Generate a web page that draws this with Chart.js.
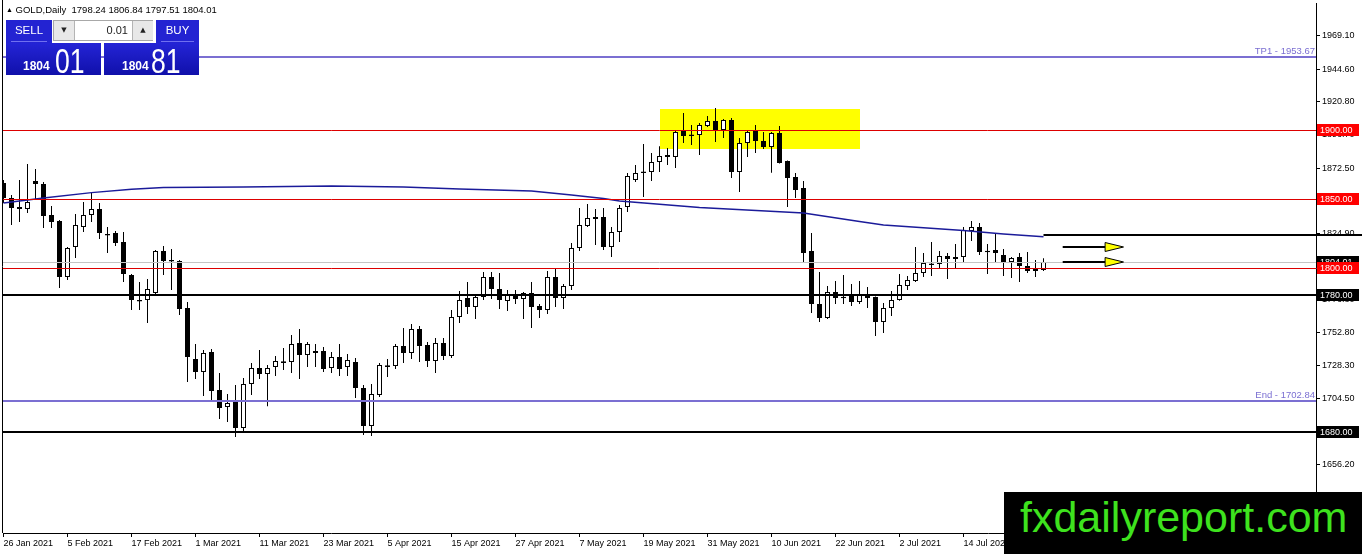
<!DOCTYPE html>
<html>
<head>
<meta charset="utf-8">
<script src="https://cdn.jsdelivr.net/npm/chart.js@4.4.1/dist/chart.umd.min.js"></script>
<style>
html,body{margin:0;padding:0;background:#fff;overflow:hidden;}
#wrap{position:relative;width:1362px;height:554px;}
#c{position:absolute;left:0;top:0;}
.abs{position:absolute;}
#hdr{left:6px;top:3px;font:9.5px/13px 'Liberation Sans',Arial,sans-serif;color:#000;white-space:pre;}
#hdr .tri{font-size:7px;position:relative;top:-1px;}
.flat{background:#2323d2;color:#fff;font-family:'Liberation Sans',Arial,sans-serif;}
.grad{background:linear-gradient(#2424d6,#1010aa);color:#fff;font-family:'Liberation Sans',Arial,sans-serif;}
.btn{font-size:11.5px;text-align:center;line-height:21px;}
.uline{position:absolute;left:5px;right:5px;top:21px;height:1px;background:#7070f0;}
.small{position:absolute;top:16px;font:bold 12px/14px 'Liberation Sans',Arial,sans-serif;}
.big{position:absolute;top:0;font:35px/35px 'Liberation Sans',Arial,sans-serif;transform:scaleX(0.76);transform-origin:0 0;}
#spin{left:53px;top:20px;width:100px;height:21px;background:#e4e4e4;border:1px solid #a8a8a8;box-sizing:border-box;}
.arr{position:absolute;top:0;width:20px;height:19px;background:#e8e8e8;font:7px/19px 'DejaVu Sans',sans-serif;text-align:center;color:#222;}
#wm{left:1004px;top:492px;width:358px;height:62px;background:#000;}
#wm span{position:absolute;left:16px;top:4px;font:43px/43px 'Liberation Sans',Arial,sans-serif;color:#3ee21e;white-space:nowrap;}
</style>
</head>
<body>
<div id="wrap">
<canvas id="c" width="1362" height="554"></canvas>
<div id="hdr" class="abs"><span class="tri">▲</span> GOLD,Daily&nbsp; 1798.24 1806.84 1797.51 1804.01</div>
<div class="abs flat btn" style="left:6px;top:20px;width:46px;height:23px;">SELL<div class="uline"></div></div>
<div class="abs grad" style="left:6px;top:43px;width:95px;height:32px;"><span class="small" style="left:17px;">1804</span><span class="big" style="left:49px;">01</span></div>
<div id="spin" class="abs">
  <div class="arr" style="left:0;border-right:1px solid #b4b4b4;">▼</div>
  <div class="abs" style="left:21px;top:0;width:57px;height:19px;background:#fff;font:11px/19px 'Liberation Sans',Arial,sans-serif;text-align:right;padding-right:4px;box-sizing:border-box;color:#222;">0.01</div>
  <div class="arr" style="left:78px;border-left:1px solid #b4b4b4;">▲</div>
</div>
<div class="abs flat btn" style="left:156px;top:20px;width:43px;height:23px;">BUY<div class="uline"></div></div>
<div class="abs grad" style="left:104px;top:43px;width:95px;height:32px;"><span class="small" style="left:18px;">1804</span><span class="big" style="left:47px;">81</span></div>
<div id="wm" class="abs"><span>fxdailyreport.com</span></div>
</div>
<script>
// ---- data ----
const tickLabels = ["26 Jan 2021","5 Feb 2021","17 Feb 2021","1 Mar 2021","11 Mar 2021","23 Mar 2021","5 Apr 2021","15 Apr 2021","27 Apr 2021","7 May 2021","19 May 2021","31 May 2021","10 Jun 2021","22 Jun 2021","2 Jul 2021","14 Jul 2021"];
const opens = [1861.64,1850.71,1842.69,1842.69,1863.10,1860.91,1838.32,1833.95,1793.14,1815.01,
1829.58,1838.32,1842.69,1824.47,1825.20,1818.64,1794.60,1776.38,1776.38,1781.48,
1812.09,1805.53,1804.80,1770.56,1733.39,1723.92,1738.49,1710.80,1698.42,1703.51,
1683.11,1715.17,1726.83,1722.46,1727.56,1730.50,1731.20,1745.04,1736.30,1737.76,
1739.22,1726.83,1734.85,1727.56,1731.20,1712.26,1684.57,1707.15,1727.60,1728.29,
1742.86,1737.76,1755.25,1743.59,1731.93,1745.04,1735.57,1763.99,1777.84,1771.28,
1778.57,1793.14,1784.40,1775.65,1780.02,1777.11,1781.48,1772.01,1769.10,1793.14,
1777.84,1786.59,1814.28,1830.31,1835.41,1836.86,1815.01,1825.93,1844.15,1863.83,
1868.90,1869.66,1876.94,1882.04,1880.58,1899.53,1896.90,1896.62,1903.17,1906.81,
1900.26,1907.54,1869.66,1890.78,1899.53,1892.24,1887.87,1898.07,1877.67,1866.01,
1857.99,1812.09,1773.47,1763.27,1782.21,1778.80,1779.30,1774.92,1780.75,1778.57,
1760.35,1770.56,1776.38,1786.59,1790.23,1796.05,1801.90,1802.61,1808.44,1806.26,
1807.72,1826.66,1829.58,1812.30,1812.82,1809.17,1804.07,1807.72,1801.16,1797.51,
1798.24];
const highs = [1863.83,1852.90,1863.83,1875.49,1871.84,1862.37,1844.88,1834.68,1815.01,1839.04,
1847.79,1854.36,1847.07,1829.58,1826.66,1825.93,1795.33,1789.50,1791.69,1812.82,
1815.73,1813.55,1805.53,1774.92,1744.32,1739.95,1740.68,1723.19,1707.88,1714.44,
1719.54,1730.47,1739.95,1729.01,1735.57,1741.41,1750.88,1755.25,1745.77,1744.32,
1742.14,1738.49,1744.32,1737.03,1734.12,1714.44,1715.17,1730.47,1733.39,1744.32,
1755.98,1758.89,1757.43,1745.77,1748.69,1748.69,1769.10,1782.94,1789.50,1779.30,
1796.78,1796.78,1796.05,1783.67,1783.67,1782.21,1789.50,1773.47,1797.51,1798.97,
1788.04,1817.91,1843.42,1846.34,1842.69,1843.42,1829.58,1845.61,1868.93,1874.76,
1890.05,1883.50,1888.42,1887.15,1899.53,1912.64,1903.90,1905.36,1910.46,1916.29,
1908.27,1909.00,1894.43,1900.26,1903.90,1898.80,1898.80,1903.17,1878.00,1868.93,
1863.10,1825.20,1796.78,1786.59,1790.23,1794.60,1788.04,1790.23,1785.86,1779.00,
1774.19,1782.94,1795.33,1793.87,1815.01,1810.63,1818.64,1812.09,1810.63,1817.18,
1829.58,1833.95,1832.50,1817.18,1825.20,1813.55,1807.72,1810.63,1811.36,1805.53,
1806.84];
const lows = [1847.07,1831.04,1833.22,1839.77,1849.25,1828.85,1828.85,1785.13,1790.96,1806.99,
1825.93,1833.22,1820.83,1810.63,1815.73,1789.50,1769.10,1769.10,1759.62,1780.75,
1794.60,1783.67,1765.46,1716.63,1718.82,1706.42,1703.51,1689.67,1687.48,1676.55,
1679.47,1707.15,1718.82,1698.96,1721.00,1725.37,1723.19,1718.82,1727.56,1727.56,
1723.92,1723.19,1721.00,1721.00,1704.97,1678.01,1677.28,1705.69,1720.27,1726.10,
1730.47,1733.39,1731.20,1727.56,1723.19,1732.66,1734.12,1759.62,1766.19,1762.54,
1776.38,1777.11,1769.83,1768.37,1773.47,1762.54,1755.98,1763.27,1766.19,1771.28,
1769.83,1783.67,1812.09,1829.58,1816.46,1812.82,1807.72,1818.64,1840.50,1862.37,
1851.44,1863.10,1869.66,1874.76,1872.57,1890.78,1889.32,1882.04,1902.45,1891.51,
1894.43,1865.29,1855.08,1880.58,1883.50,1886.42,1869.02,1875.80,1844.15,1850.71,
1804.07,1766.92,1760.35,1762.50,1773.47,1773.47,1772.01,1773.47,1770.56,1750.15,
1752.33,1764.73,1775.90,1783.67,1789.50,1793.14,1793.87,1799.70,1791.69,1798.97,
1804.07,1819.37,1809.17,1795.33,1804.07,1793.87,1792.41,1789.50,1796.05,1793.14,
1797.51];
const closes = [1850.71,1843.42,1844.15,1847.79,1860.91,1837.59,1833.22,1793.14,1814.28,1831.04,
1838.32,1842.69,1825.20,1823.30,1817.91,1795.33,1776.38,1775.20,1784.40,1812.09,
1804.80,1804.40,1769.83,1734.85,1723.92,1737.76,1710.07,1697.69,1701.33,1683.11,
1715.17,1726.83,1722.46,1726.83,1731.93,1731.70,1744.32,1736.30,1744.32,1739.22,
1726.10,1734.85,1726.10,1732.66,1712.26,1684.57,1707.88,1729.01,1728.80,1742.86,
1737.76,1755.25,1742.86,1731.93,1745.04,1735.57,1763.99,1776.38,1771.28,1778.57,
1793.14,1784.40,1776.38,1780.02,1777.11,1781.48,1771.28,1769.10,1793.14,1777.84,
1786.59,1814.28,1831.04,1836.14,1836.86,1815.01,1825.93,1843.42,1866.74,1868.93,
1870.10,1876.94,1881.31,1880.58,1898.80,1895.89,1895.80,1903.90,1906.81,1900.26,
1907.54,1869.66,1890.78,1898.80,1892.24,1887.87,1898.07,1876.21,1865.29,1856.54,
1810.63,1773.47,1763.27,1782.21,1777.84,1777.70,1774.92,1780.02,1777.84,1760.35,
1770.56,1776.38,1787.31,1790.96,1796.05,1803.34,1803.00,1808.44,1806.26,1807.72,
1827.39,1829.58,1811.36,1811.20,1810.63,1803.34,1806.99,1801.16,1797.51,1798.97,
1804.01];
// moving average readings (candle index, value)
const maIdx = [0,5,11,16,20,30,41,50,57,66,71,75,77,87,100,107,110,120,125,130];
const maVal = [1847.1,1850.7,1854.6,1857.1,1858.4,1858.7,1859.5,1858.7,1857.3,1855.8,1852.9,1850.3,1848.5,1843.8,1839.8,1833.6,1831.0,1827.0,1824.5,1822.5];
const yTicks = [1969.10,1944.60,1920.80,1896.70,1872.50,1848.70,1824.90,1800.80,1776.80,1752.80,1728.30,1704.50,1680.40,1656.20,1632.40];
const redLevels = [1900,1850,1800];
const blackLevels = [1780,1680];
const blueLevels = [1953.67,1702.84];
const blueLabels = ["TP1 - 1953.67","End - 1702.84"];
const currentPrice = 1804.01;
const trendLevel = 1823.9;
const trendStart = 130;
const zoneX = [82,107];
const zoneY = [1886.4,1915.6];
const arrowLevels = [1815.2,1804.2];
const arrowX = [132.4,137.7,140.0];

// ---- chart ----
const FONT = "'Liberation Sans', Arial, sans-serif";
const wickData = opens.map((o,i)=>({x:i, y:[lows[i], highs[i]]}));
const bodyData = opens.map((o,i)=>({x:i, y:[o, closes[i]]}));
const bodyColors = opens.map((o,i)=> closes[i] >= o ? '#ffffff' : '#000000');
const maData = maIdx.map((k,j)=>({x:k, y:maVal[j]}));

const overlay = {
  id:'overlay',
  beforeDatasetsDraw(chart){
    const {ctx, scales:{x,y}} = chart;
    const x0 = x.getPixelForValue(zoneX[0]), x1 = x.getPixelForValue(zoneX[1]);
    const y0 = y.getPixelForValue(zoneY[1]), y1 = y.getPixelForValue(zoneY[0]);
    ctx.save();
    ctx.fillStyle = '#ffff00';
    ctx.fillRect(Math.round(x0), Math.round(y0), Math.round(x1-x0), Math.round(y1-y0));
    ctx.restore();
  },
  afterDatasetsDraw(chart){
    const {ctx, chartArea:a, scales:{x,y}} = chart;
    const W = chart.width;
    const hline = (v,color,w,xs,xe)=>{
      const py = Math.round(y.getPixelForValue(v)) + (w % 2 ? 0.5 : 0);
      ctx.strokeStyle = color; ctx.lineWidth = w;
      ctx.beginPath(); ctx.moveTo(xs,py); ctx.lineTo(xe,py); ctx.stroke();
    };
    ctx.save();
    hline(currentPrice,'#c4c4c4',1,a.left,a.right);
    redLevels.forEach(v=>hline(v,'#dd0000',1,a.left,a.right));
    blueLevels.forEach(v=>hline(v,'#7b6fd2',2,a.left,a.right));
    blackLevels.forEach(v=>hline(v,'#000000',2,a.left,a.right));
    hline(trendLevel,'#000000',2,x.getPixelForValue(trendStart),W);
    // arrows
    arrowLevels.forEach(v=>{
      const py = Math.round(y.getPixelForValue(v));
      const xa = x.getPixelForValue(arrowX[0]), xb = x.getPixelForValue(arrowX[1]), xc = x.getPixelForValue(arrowX[2]);
      ctx.strokeStyle = '#000'; ctx.lineWidth = 2;
      ctx.beginPath(); ctx.moveTo(xa,py); ctx.lineTo(xb,py); ctx.stroke();
      ctx.fillStyle = '#ffff00'; ctx.lineWidth = 1;
      ctx.beginPath(); ctx.moveTo(xb,py-4.5); ctx.lineTo(xc,py); ctx.lineTo(xb,py+4.5); ctx.closePath();
      ctx.fill(); ctx.stroke();
    });
    // level texts
    ctx.font = "9.5px " + FONT; ctx.fillStyle = '#7b6fd2';
    ctx.textAlign = 'right'; ctx.textBaseline = 'alphabetic';
    blueLevels.forEach((v,k)=>ctx.fillText(blueLabels[k], a.right-1, y.getPixelForValue(v)-3));
    // left border
    ctx.strokeStyle = '#000'; ctx.lineWidth = 1;
    ctx.beginPath(); ctx.moveTo(a.left-0.5,0); ctx.lineTo(a.left-0.5,a.bottom); ctx.stroke();
    ctx.restore();
  },
  afterDraw(chart){
    const {ctx, chartArea:a, scales:{y}} = chart;
    const box = (v,txt,bg)=>{
      const top = Math.round(y.getPixelForValue(v) - 6);
      ctx.fillStyle = bg; ctx.fillRect(a.right+1, top, 42, 12);
      ctx.fillStyle = '#fff'; ctx.font = "9px " + FONT;
      ctx.textAlign = 'left'; ctx.textBaseline = 'middle';
      ctx.fillText(txt, a.right+4, top+6.5);
    };
    ctx.save();
    box(currentPrice, currentPrice.toFixed(2), '#000');
    redLevels.forEach(v=>box(v, v.toFixed(2), '#ff0000'));
    blackLevels.forEach(v=>box(v, v.toFixed(2), '#000'));
    ctx.restore();
  }
};

new Chart(document.getElementById('c'), {
  type:'bar',
  data:{datasets:[
    {type:'line', data:maData, borderColor:'#1b1b9a', borderWidth:1.4, pointRadius:0, tension:0, order:0},
    {type:'bar', data:bodyData, backgroundColor:bodyColors, borderColor:'#000', borderWidth:1, borderSkipped:false, barThickness:5, inflateAmount:0, grouped:false, order:1},
    {type:'bar', data:wickData, backgroundColor:'#000', borderWidth:0, barThickness:1, inflateAmount:0, grouped:false, order:2}
  ]},
  options:{
    responsive:false, animation:false,
    layout:{padding:{left:3, top:3, right:0, bottom:0}},
    plugins:{legend:{display:false}, tooltip:{enabled:false}},
    scales:{
      x:{type:'linear', min:-0.0625, max:164.0625, bounds:'data', offset:false, position:'bottom',
         grid:{drawOnChartArea:false, drawTicks:true, tickLength:4, color:'#000', tickColor:'#000', offset:false},
         border:{display:true, color:'#000', width:1},
         ticks:{autoSkip:false, maxRotation:0, minRotation:0, align:'start', padding:1, color:'#000',
                font:{family:FONT, size:9}, callback:(v)=>tickLabels[Math.round(v/8)] || ''},
         afterBuildTicks:(s)=>{ s.ticks = tickLabels.map((t,k)=>({value:k*8})); },
         afterFit:(s)=>{ s.height = 21; s.paddingLeft = 0; s.paddingRight = 0; }
      },
      y:{type:'linear', position:'right', min:1606.6, max:1992.8, bounds:'data',
         grid:{drawOnChartArea:false, drawTicks:true, tickLength:4, color:'#000', tickColor:'#000'},
         border:{display:true, color:'#000', width:1},
         ticks:{autoSkip:false, padding:2, color:'#000', font:{family:FONT, size:9},
                callback:(v)=>Number(v).toFixed(2)},
         afterBuildTicks:(s)=>{ s.ticks = yTicks.map(v=>({value:v})); },
         afterFit:(s)=>{ s.width = 46; s.paddingTop = 0; s.paddingBottom = 0; }
      }
    }
  },
  plugins:[overlay]
});
</script>
</body>
</html>
